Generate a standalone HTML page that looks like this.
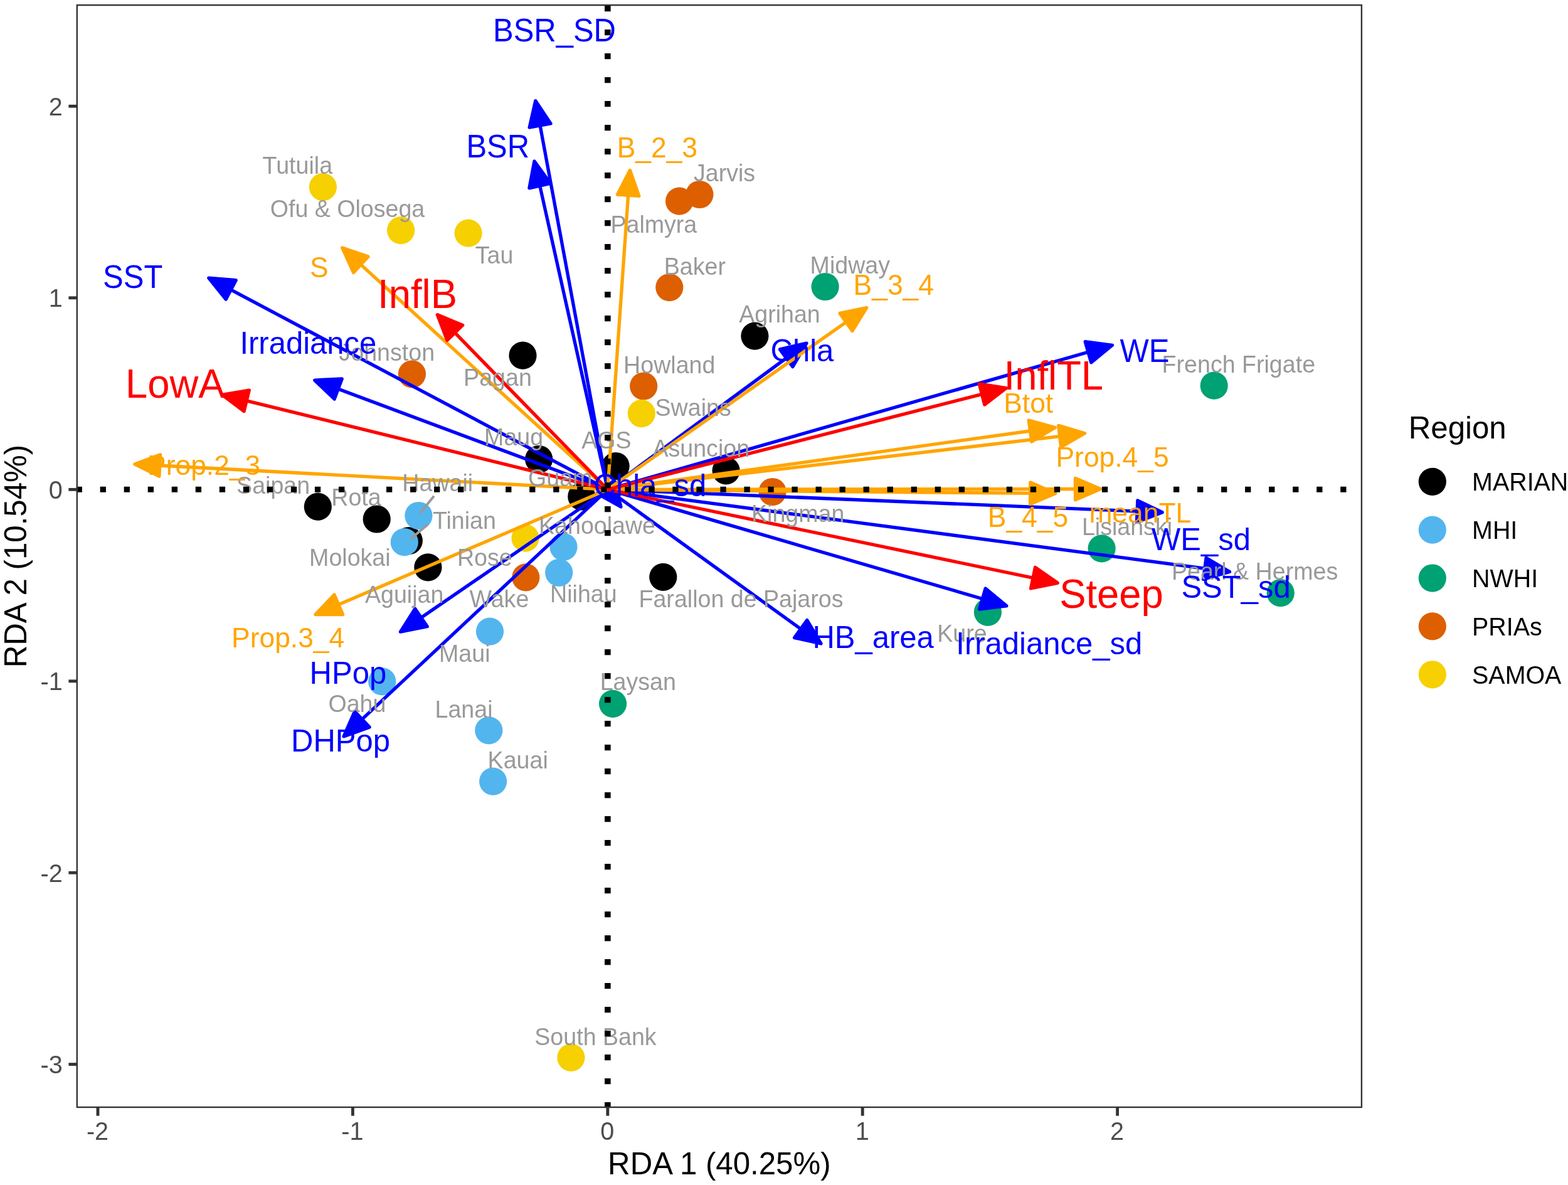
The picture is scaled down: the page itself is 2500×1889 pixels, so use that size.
<!DOCTYPE html>
<html lang="en"><head><meta charset="utf-8"><title>RDA biplot</title>
<style>html,body{margin:0;padding:0;background:#fff}body{width:2500px;height:1889px;overflow:hidden}svg{display:block}text{font-family:'Liberation Sans', Arial, Helvetica, sans-serif}</style>
</head><body>
<svg width="2500" height="1889" viewBox="0 0 2500 1889">
<rect width="2500" height="1889" fill="#fff"/>
<defs><clipPath id="pc"><rect x="121.6" y="6.95" width="2050.5" height="1759.25"/></clipPath></defs>
<g clip-path="url(#pc)">
<g>
<circle cx="1203.4" cy="535.6" r="22.1" fill="#000000"/>
<circle cx="833.5" cy="566.7" r="22.1" fill="#000000"/>
<circle cx="859.2" cy="732" r="22.1" fill="#000000"/>
<circle cx="981.6" cy="743" r="22.1" fill="#000000"/>
<circle cx="1157.6" cy="750.3" r="22.1" fill="#000000"/>
<circle cx="927.3" cy="791.5" r="22.1" fill="#000000"/>
<circle cx="506.8" cy="807.7" r="22.1" fill="#000000"/>
<circle cx="600.7" cy="827.5" r="22.1" fill="#000000"/>
<circle cx="651.8" cy="862" r="22.1" fill="#000000"/>
<circle cx="682.4" cy="904.3" r="22.1" fill="#000000"/>
<circle cx="1057.3" cy="919.9" r="22.1" fill="#000000"/>
<circle cx="667.4" cy="822" r="22.1" fill="#53B5EE"/>
<circle cx="644.8" cy="864.2" r="22.1" fill="#53B5EE"/>
<circle cx="898.5" cy="871.8" r="22.1" fill="#53B5EE"/>
<circle cx="891.2" cy="912.8" r="22.1" fill="#53B5EE"/>
<circle cx="781" cy="1006.6" r="22.1" fill="#53B5EE"/>
<circle cx="609.2" cy="1086.3" r="22.1" fill="#53B5EE"/>
<circle cx="779.3" cy="1164.3" r="22.1" fill="#53B5EE"/>
<circle cx="786.1" cy="1245.6" r="22.1" fill="#53B5EE"/>
<circle cx="1315.6" cy="457" r="22.1" fill="#00A173"/>
<circle cx="1935.7" cy="614.7" r="22.1" fill="#00A173"/>
<circle cx="1756.6" cy="874.3" r="22.1" fill="#00A173"/>
<circle cx="2041.7" cy="945.2" r="22.1" fill="#00A173"/>
<circle cx="1574.9" cy="975.8" r="22.1" fill="#00A173"/>
<circle cx="977.1" cy="1121.9" r="22.1" fill="#00A173"/>
<circle cx="1115.4" cy="310" r="22.1" fill="#DD5F00"/>
<circle cx="1083.1" cy="320.7" r="22.1" fill="#DD5F00"/>
<circle cx="1067.3" cy="458.1" r="22.1" fill="#DD5F00"/>
<circle cx="656.9" cy="596.3" r="22.1" fill="#DD5F00"/>
<circle cx="1026.2" cy="615.5" r="22.1" fill="#DD5F00"/>
<circle cx="1231.6" cy="784" r="22.1" fill="#DD5F00"/>
<circle cx="838.3" cy="920.4" r="22.1" fill="#DD5F00"/>
<circle cx="514.9" cy="298.1" r="22.1" fill="#F6D000"/>
<circle cx="639.1" cy="367.1" r="22.1" fill="#F6D000"/>
<circle cx="746.6" cy="371.6" r="22.1" fill="#F6D000"/>
<circle cx="1022.8" cy="659.1" r="22.1" fill="#F6D000"/>
<circle cx="837.5" cy="857.7" r="22.1" fill="#F6D000"/>
<circle cx="910.4" cy="1685.9" r="22.1" fill="#F6D000"/>
</g>
<g>
<path d="M968.85 780.35L853.8 160.7" stroke="#0000FF" stroke-width="5.33" fill="none" stroke-linecap="butt"/><path d="M878.01 196.89L853.8 160.7L844.19 203.17Z" fill="#0000FF" stroke="#0000FF" stroke-width="5.33" stroke-linejoin="round"/>
<path d="M968.85 780.35L852 257" stroke="#0000FF" stroke-width="5.33" fill="none" stroke-linecap="butt"/><path d="M877.5 292.29L852 257L843.93 299.79Z" fill="#0000FF" stroke="#0000FF" stroke-width="5.33" stroke-linejoin="round"/>
<path d="M968.85 780.35L332.8 443.2" stroke="#0000FF" stroke-width="5.33" fill="none" stroke-linecap="butt"/><path d="M376.2 446.74L332.8 443.2L360.09 477.13Z" fill="#0000FF" stroke="#0000FF" stroke-width="5.33" stroke-linejoin="round"/>
<path d="M968.85 780.35L501.7 606.1" stroke="#0000FF" stroke-width="5.33" fill="none" stroke-linecap="butt"/><path d="M545.19 603.96L501.7 606.1L533.17 636.19Z" fill="#0000FF" stroke="#0000FF" stroke-width="5.33" stroke-linejoin="round"/>
<path d="M968.85 780.35L1285.9 547.1" stroke="#0000FF" stroke-width="5.33" fill="none" stroke-linecap="butt"/><path d="M1263.87 584.66L1285.9 547.1L1243.49 556.95Z" fill="#0000FF" stroke="#0000FF" stroke-width="5.33" stroke-linejoin="round"/>
<path d="M968.85 780.35L1773.4 550.3" stroke="#0000FF" stroke-width="5.33" fill="none" stroke-linecap="butt"/><path d="M1739.67 577.83L1773.4 550.3L1730.21 544.76Z" fill="#0000FF" stroke="#0000FF" stroke-width="5.33" stroke-linejoin="round"/>
<path d="M968.85 780.35L990 808" stroke="#0000FF" stroke-width="5.33" fill="none" stroke-linecap="butt"/><path d="M952.04 786.68L990 808L979.36 765.78Z" fill="#0000FF" stroke="#0000FF" stroke-width="5.33" stroke-linejoin="round"/>
<path d="M968.85 780.35L1853.1 816.7" stroke="#0000FF" stroke-width="5.33" fill="none" stroke-linecap="butt"/><path d="M1812.43 832.24L1853.1 816.7L1813.84 797.87Z" fill="#0000FF" stroke="#0000FF" stroke-width="5.33" stroke-linejoin="round"/>
<path d="M968.85 780.35L1960.5 911.5" stroke="#0000FF" stroke-width="5.33" fill="none" stroke-linecap="butt"/><path d="M1918.59 923.31L1960.5 911.5L1923.1 889.2Z" fill="#0000FF" stroke="#0000FF" stroke-width="5.33" stroke-linejoin="round"/>
<path d="M968.85 780.35L1604.8 965.8" stroke="#0000FF" stroke-width="5.33" fill="none" stroke-linecap="butt"/><path d="M1561.58 971.11L1604.8 965.8L1571.21 938.09Z" fill="#0000FF" stroke="#0000FF" stroke-width="5.33" stroke-linejoin="round"/>
<path d="M968.85 780.35L1309.1 1026" stroke="#0000FF" stroke-width="5.33" fill="none" stroke-linecap="butt"/><path d="M1266.6 1016.53L1309.1 1026L1286.74 988.64Z" fill="#0000FF" stroke="#0000FF" stroke-width="5.33" stroke-linejoin="round"/>
<path d="M968.85 780.35L638.5 1007.2" stroke="#0000FF" stroke-width="5.33" fill="none" stroke-linecap="butt"/><path d="M661.74 970.38L638.5 1007.2L681.21 998.74Z" fill="#0000FF" stroke="#0000FF" stroke-width="5.33" stroke-linejoin="round"/>
<path d="M968.85 780.35L548.1 1173.9" stroke="#0000FF" stroke-width="5.33" fill="none" stroke-linecap="butt"/><path d="M565.56 1134.01L548.1 1173.9L589.06 1159.14Z" fill="#0000FF" stroke="#0000FF" stroke-width="5.33" stroke-linejoin="round"/>
<path d="M968.85 780.35L1004.4 271.4" stroke="#FFA500" stroke-width="5.33" fill="none" stroke-linecap="butt"/><path d="M1018.77 312.5L1004.4 271.4L984.45 310.1Z" fill="#FFA500" stroke="#FFA500" stroke-width="5.33" stroke-linejoin="round"/>
<path d="M968.85 780.35L545.7 394.9" stroke="#FFA500" stroke-width="5.33" fill="none" stroke-linecap="butt"/><path d="M586.85 409.12L545.7 394.9L563.69 434.55Z" fill="#FFA500" stroke="#FFA500" stroke-width="5.33" stroke-linejoin="round"/>
<path d="M968.85 780.35L1381.7 490.5" stroke="#FFA500" stroke-width="5.33" fill="none" stroke-linecap="butt"/><path d="M1358.85 527.56L1381.7 490.5L1339.08 499.41Z" fill="#FFA500" stroke="#FFA500" stroke-width="5.33" stroke-linejoin="round"/>
<path d="M968.85 780.35L1682.2 681.5" stroke="#FFA500" stroke-width="5.33" fill="none" stroke-linecap="butt"/><path d="M1644.94 704.03L1682.2 681.5L1640.22 669.95Z" fill="#FFA500" stroke="#FFA500" stroke-width="5.33" stroke-linejoin="round"/>
<path d="M968.85 780.35L1729.4 690.8" stroke="#FFA500" stroke-width="5.33" fill="none" stroke-linecap="butt"/><path d="M1691.69 712.56L1729.4 690.8L1687.66 678.4Z" fill="#FFA500" stroke="#FFA500" stroke-width="5.33" stroke-linejoin="round"/>
<path d="M968.85 780.35L1682.7 786.6" stroke="#FFA500" stroke-width="5.33" fill="none" stroke-linecap="butt"/><path d="M1642.55 803.45L1682.7 786.6L1642.85 769.05Z" fill="#FFA500" stroke="#FFA500" stroke-width="5.33" stroke-linejoin="round"/>
<path d="M968.85 780.35L1754.5 779.5" stroke="#FFA500" stroke-width="5.33" fill="none" stroke-linecap="butt"/><path d="M1714.52 796.74L1754.5 779.5L1714.48 762.34Z" fill="#FFA500" stroke="#FFA500" stroke-width="5.33" stroke-linejoin="round"/>
<path d="M968.85 780.35L214.8 739.9" stroke="#FFA500" stroke-width="5.33" fill="none" stroke-linecap="butt"/><path d="M255.66 724.87L214.8 739.9L253.82 759.22Z" fill="#FFA500" stroke="#FFA500" stroke-width="5.33" stroke-linejoin="round"/>
<path d="M968.85 780.35L503 979.5" stroke="#FFA500" stroke-width="5.33" fill="none" stroke-linecap="butt"/><path d="M533.02 947.96L503 979.5L546.54 979.59Z" fill="#FFA500" stroke="#FFA500" stroke-width="5.33" stroke-linejoin="round"/>
<path d="M968.85 780.35L697.4 501.8" stroke="#FF0000" stroke-width="5.33" fill="none" stroke-linecap="butt"/><path d="M737.64 518.44L697.4 501.8L713 542.45Z" fill="#FF0000" stroke="#FF0000" stroke-width="5.33" stroke-linejoin="round"/>
<path d="M968.85 780.35L354.3 629.3" stroke="#FF0000" stroke-width="5.33" fill="none" stroke-linecap="butt"/><path d="M397.25 622.14L354.3 629.3L389.04 655.55Z" fill="#FF0000" stroke="#FF0000" stroke-width="5.33" stroke-linejoin="round"/>
<path d="M968.85 780.35L1604.3 618.6" stroke="#FF0000" stroke-width="5.33" fill="none" stroke-linecap="butt"/><path d="M1569.78 645.14L1604.3 618.6L1561.29 611.8Z" fill="#FF0000" stroke="#FF0000" stroke-width="5.33" stroke-linejoin="round"/>
<path d="M968.85 780.35L1686.2 929.3" stroke="#FF0000" stroke-width="5.33" fill="none" stroke-linecap="butt"/><path d="M1643.54 938.01L1686.2 929.3L1650.53 904.33Z" fill="#FF0000" stroke="#FF0000" stroke-width="5.33" stroke-linejoin="round"/>
</g>
<g fill="#999999" font-size="37.6">
<text transform="translate(418.6 277) scale(1 1.02)">Tutuila</text>
<text transform="translate(430.7 346.1) scale(1 1.02)">Ofu &amp; Olosega</text>
<text transform="translate(757.8 419.5) scale(1 1.02)">Tau</text>
<text transform="translate(1106 289) scale(1 1.02)">Jarvis</text>
<text transform="translate(973.4 370.5) scale(1 1.02)">Palmyra</text>
<text transform="translate(1058.7 437.5) scale(1 1.02)">Baker</text>
<text transform="translate(1291.6 435.9) scale(1 1.02)">Midway</text>
<text transform="translate(1178.2 513.5) scale(1 1.02)">Agrihan</text>
<text transform="translate(540.5 575.3) scale(1 1.02)">Johnston</text>
<text transform="translate(739.1 615.4) scale(1 1.02)">Pagan</text>
<text transform="translate(994.1 595) scale(1 1.02)">Howland</text>
<text transform="translate(1044.5 662.7) scale(1 1.02)">Swains</text>
<text transform="translate(772.1 710.4) scale(1 1.02)">Maug</text>
<text transform="translate(927.3 715) scale(1 1.04)">AGS</text>
<text transform="translate(1040.4 727.7) scale(1 1.02)">Asuncion</text>
<text transform="translate(842 774.9) scale(1 1.02)">Guam</text>
<text transform="translate(641.3 783.3) scale(1 1.02)">Hawaii</text>
<text transform="translate(377.1 786.8) scale(1 1.02)">Saipan</text>
<text transform="translate(528.3 805.5) scale(1 1.02)">Rota</text>
<text transform="translate(689.9 842.9) scale(1 1.02)">Tinian</text>
<text transform="translate(493.1 902.3) scale(1 1.02)">Molokai</text>
<text transform="translate(859 851.4) scale(1 1.02)">Kahoolawe</text>
<text transform="translate(728.9 902.3) scale(1 1.02)">Rose</text>
<text transform="translate(581.9 960.9) scale(1 1.02)">Aguijan</text>
<text transform="translate(748.6 968.3) scale(1 1.02)">Wake</text>
<text transform="translate(877.1 960.4) scale(1 1.02)">Niihau</text>
<text transform="translate(1018.5 968.4) scale(1 1.02)">Farallon de Pajaros</text>
<text transform="translate(1198 831.5) scale(1 1.02)">Kingman</text>
<text transform="translate(1852.6 593.5) scale(1 1.02)">French Frigate</text>
<text transform="translate(1724.9 853.4) scale(1 1.02)">Lisianski</text>
<text transform="translate(1867.9 923.6) scale(1 1.02)">Pearl &amp; Hermes</text>
<text transform="translate(1494.2 1023.2) scale(1 1.02)">Kure</text>
<text transform="translate(700 1054.5) scale(1 1.02)">Maui</text>
<text transform="translate(523.4 1135.4) scale(1 1.02)">Oahu</text>
<text transform="translate(693.5 1143.9) scale(1 1.02)">Lanai</text>
<text transform="translate(777.6 1224.7) scale(1 1.02)">Kauai</text>
<text transform="translate(956.7 1100.4) scale(1 1.02)">Laysan</text>
<text transform="translate(852.3 1665.5) scale(1 1.02)">South Bank</text>
</g>
<path d="M692 790.7L669.6 818.1" stroke="#999999" stroke-width="4" fill="none"/>
<path d="M681.5 836.5L654.7 859.1" stroke="#999999" stroke-width="4" fill="none"/>
<g fill="#FFA500" font-size="44.4">
<text transform="translate(493.9 442) scale(1 1.04)">S</text>
<text transform="translate(983.7 250.9) scale(1 1.04)">B_2_3</text>
<text transform="translate(1360.6 469.5) scale(1 1.04)">B_3_4</text>
<text transform="translate(1600.2 658.2) scale(1 1.02)">Btot</text>
<text transform="translate(1683.5 743.6) scale(1 1.02)">Prop.4_5</text>
<text transform="translate(1574.8 839.8) scale(1 1.04)">B_4_5</text>
<text transform="translate(1736.4 833.1) scale(1 1.02)">meanTL</text>
<text transform="translate(235.1 756.8) scale(1 1.02)">Prop.2_3</text>
<text transform="translate(369.1 1031.5) scale(1 1.02)">Prop.3_4</text>
</g>
<g fill="#FF0000" font-size="63.4">
<text transform="translate(602.1 490.8) scale(1 1.02)">InflB</text>
<text transform="translate(200.1 633.7) scale(1 1.02)">LowA</text>
<text transform="translate(1600.6 620.8) scale(1 1.02)">InflTL</text>
<text transform="translate(1689.2 968.5) scale(1 1.02)">Steep</text>
</g>
<g fill="#0000FF" font-size="49">
<text transform="translate(786 66.3) scale(1 1.04)">BSR_SD</text>
<text transform="translate(743.4 250.9) scale(1 1.04)">BSR</text>
<text transform="translate(164.1 459) scale(1 1.04)">SST</text>
<text transform="translate(382.4 563.7) scale(1 1.02)">Irradiance</text>
<text transform="translate(1228.6 575.5) scale(1 1.02)">Chla</text>
<text transform="translate(1785.4 577.3) scale(1 1.04)">WE</text>
<text transform="translate(946.6 790.9) scale(1 1.02)">Chla_sd</text>
<text transform="translate(1836 877.4) scale(1 1.02)">WE_sd</text>
<text transform="translate(1883.4 953.4) scale(1 1.02)">SST_sd</text>
<text transform="translate(1524.3 1043) scale(1 1.02)">Irradiance_sd</text>
<text transform="translate(1295.4 1033) scale(1 1.02)">HB_area</text>
<text transform="translate(493.6 1090.1) scale(1 1.02)">HPop</text>
<text transform="translate(464.1 1198.2) scale(1 1.02)">DHPop</text>
</g>
<path d="M121.6 780.35H2172.1" stroke="#000" stroke-width="9" stroke-dasharray="9.3 28.73" fill="none"/>
<path d="M968.85 1766.2V6.95" stroke="#000" stroke-width="9.6" stroke-dasharray="9.3 28.7" fill="none"/>
</g>
<rect x="122.8" y="8.15" width="2048.1" height="1756.85" fill="none" stroke="#333333" stroke-width="2.4"/>
<g stroke="#333333" stroke-width="4.85" fill="none">
<path d="M156 1765.2V1778.7"/>
<path d="M562.4 1765.2V1778.7"/>
<path d="M968.85 1765.2V1778.7"/>
<path d="M1375.2 1765.2V1778.7"/>
<path d="M1781.6 1765.2V1778.7"/>
<path d="M122.6 169.3H109.4"/>
<path d="M122.6 474.8H109.4"/>
<path d="M122.6 780.35H109.4"/>
<path d="M122.6 1085.8H109.4"/>
<path d="M122.6 1391.2H109.4"/>
<path d="M122.6 1696.6H109.4"/>
</g>
<g fill="#4D4D4D" font-size="39.6">
<text transform="translate(155.5 1816.9) scale(1 1.02)" text-anchor="middle">-2</text>
<text transform="translate(561.9 1816.9) scale(1 1.02)" text-anchor="middle">-1</text>
<text transform="translate(968.35 1816.9) scale(1 1.02)" text-anchor="middle">0</text>
<text transform="translate(1374.7 1816.9) scale(1 1.02)" text-anchor="middle">1</text>
<text transform="translate(1781.1 1816.9) scale(1 1.02)" text-anchor="middle">2</text>
<text transform="translate(99.8 183.7) scale(1 1.02)" text-anchor="end">2</text>
<text transform="translate(99.8 489.2) scale(1 1.02)" text-anchor="end">1</text>
<text transform="translate(99.8 794.75) scale(1 1.02)" text-anchor="end">0</text>
<text transform="translate(99.8 1100.2) scale(1 1.02)" text-anchor="end">-1</text>
<text transform="translate(99.8 1405.6) scale(1 1.02)" text-anchor="end">-2</text>
<text transform="translate(99.8 1711) scale(1 1.02)" text-anchor="end">-3</text>
</g>
<text transform="translate(1146.85 1871.8) scale(1 1.02)" font-size="49.2" text-anchor="middle" fill="#000">RDA 1 (40.25%)</text>
<text transform="translate(42 886.58) rotate(-90) scale(1 1.02)" font-size="49.2" text-anchor="middle" fill="#000">RDA 2 (10.54%)</text>
<text transform="translate(2245.8 699.3) scale(1 1)" font-size="49.2" fill="#000">Region</text>
<g font-size="39.4" fill="#000">
<circle cx="2283.8" cy="767.8" r="22.1" fill="#000000"/>
<text transform="translate(2347.1 782.1) scale(1 1.03)">MARIAN</text>
<circle cx="2283.8" cy="844.67" r="22.1" fill="#53B5EE"/>
<text transform="translate(2347.1 858.97) scale(1 1.03)">MHI</text>
<circle cx="2283.8" cy="921.54" r="22.1" fill="#00A173"/>
<text transform="translate(2347.1 935.84) scale(1 1.03)">NWHI</text>
<circle cx="2283.8" cy="998.41" r="22.1" fill="#DD5F00"/>
<text transform="translate(2347.1 1012.71) scale(1 1.03)">PRIAs</text>
<circle cx="2283.8" cy="1075.28" r="22.1" fill="#F6D000"/>
<text transform="translate(2347.1 1089.58) scale(1 1.03)">SAMOA</text>
</g>
</svg>
</body></html>
